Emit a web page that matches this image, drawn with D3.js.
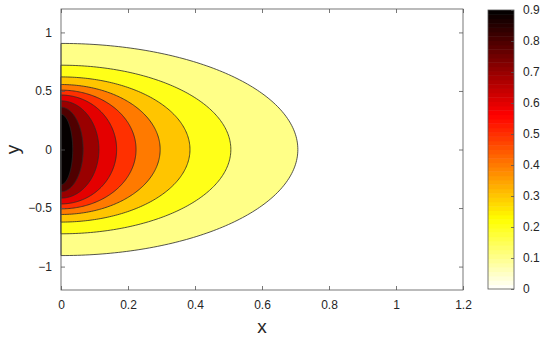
<!DOCTYPE html>
<html lang="en">
<head>
<meta charset="UTF-8">
<title>Contour</title>
<script src="https://d3js.org/d3.v7.min.js"></script>
<style>
    body { margin: 0; background: #fff; }
    text { font-family: "Liberation Sans", Arial, sans-serif; fill: #262626; }
    .tick text { font-size: 12px; }
</style>
</head>
<body>
<svg width="550" height="338"></svg>
<script>
    // contour levels and where each closed curve reaches on the axes
    var levels = [0.1, 0.2, 0.3, 0.4, 0.5, 0.6, 0.7, 0.8, 0.9];
    var xReach = [0.707, 0.507, 0.385, 0.296, 0.224, 0.166, 0.113, 0.066, 0.035];
    var yReach = [0.906, 0.72, 0.62, 0.555, 0.507, 0.465, 0.415, 0.36, 0.30];

    var xTicks = [0, 0.2, 0.4, 0.6, 0.8, 1, 1.2];
    var yTicks = [-1, -0.5, 0, 0.5, 1];
    var cbTicks = [0, 0.1, 0.2, 0.3, 0.4, 0.5, 0.6, 0.7, 0.8, 0.9];

    var svg = d3.select("svg");
    var plot = {left: 61, right: 463, top: 9, bottom: 290};
    var cb = {left: 488, right: 514, top: 10, bottom: 289};

    var x = d3.scaleLinear().domain([0, 1.2]).range([plot.left, plot.right]);
    var y = d3.scaleLinear().domain([-1.2, 1.2]).range([plot.bottom, plot.top]);
    var cbY = d3.scaleLinear().domain([0, 0.9]).range([cb.bottom, cb.top]);

    // flipped "hot" colormap, 64 steps over 0..0.9
    var nColors = 64;
    function hotFlip(v) {
        var k = Math.min(nColors - 1, Math.floor(v / 0.9 * nColors));
        var t = 1 - (k + 0.5) / nColors;
        var c = function(a) { return Math.round(255 * Math.max(0, Math.min(1, a))); };
        return d3.rgb(c(t / 0.375), c((t - 0.375) / 0.375), c((t - 0.75) / 0.25)).toString();
    }

    // filled contours, outermost first
    var line = d3.line()
        .x(function(p) { return x(p[0]); })
        .y(function(p) { return y(p[1]); });

    var bands = svg.append("g");
    levels.forEach(function(lv, i) {
        var pts = d3.range(0, 181).map(function(a) {
            var th = (a - 90) * Math.PI / 180;
            return [xReach[i] * Math.cos(th), yReach[i] * Math.sin(th)];
        });
        bands.append("path")
            .attr("d", line(pts) + "Z")
            .attr("fill", hotFlip(lv))
            .attr("stroke", "#2a2a2a")
            .attr("stroke-width", 0.8);
    });

    // axes box with inward ticks
    var tickLen = 4;
    var axisColor = "#555";
    var gx = svg.append("g").attr("transform", "translate(0," + plot.bottom + ")")
        .call(d3.axisBottom(x).tickValues(xTicks).tickSize(-tickLen).tickPadding(10).tickFormat(d3.format("~g")));
    var gxTop = svg.append("g").attr("transform", "translate(0," + plot.top + ")")
        .call(d3.axisTop(x).tickValues(xTicks).tickSize(-tickLen).tickFormat(""));
    var gy = svg.append("g").attr("transform", "translate(" + plot.left + ",0)")
        .call(d3.axisLeft(y).tickValues(yTicks).tickSize(-tickLen).tickPadding(9).tickFormat(d3.format("~g")));
    var gyRight = svg.append("g").attr("transform", "translate(" + plot.right + ",0)")
        .call(d3.axisRight(y).tickValues(yTicks).tickSize(-tickLen).tickFormat(""));

    [gx, gxTop, gy, gyRight].forEach(function(g) {
        g.select(".domain").remove();
        g.selectAll(".tick line").attr("stroke", axisColor).attr("stroke-width", 0.8);
        g.selectAll(".tick text").attr("fill", "#262626").style("font-size", "12px");
    });
    gx.selectAll(".tick text").attr("dy", "0.71em");

    svg.append("rect")
        .attr("x", plot.left).attr("y", plot.top)
        .attr("width", plot.right - plot.left).attr("height", plot.bottom - plot.top)
        .attr("fill", "none").attr("stroke", axisColor).attr("stroke-width", 0.8);

    svg.append("text")
        .attr("x", (plot.left + plot.right) / 2).attr("y", 333)
        .attr("text-anchor", "middle")
        .style("font-size", "19px")
        .text("x");

    svg.append("text")
        .attr("transform", "translate(19," + y(0) + ") rotate(-90)")
        .attr("text-anchor", "middle")
        .style("font-size", "19px")
        .text("y");

    // colorbar
    var step = 0.9 / nColors;
    svg.append("g").selectAll("rect")
        .data(d3.range(nColors))
        .enter()
        .append("rect")
        .attr("x", cb.left)
        .attr("width", cb.right - cb.left)
        .attr("y", function(k) { return cbY((k + 1) * step); })
        .attr("height", function(k) { return cbY(k * step) - cbY((k + 1) * step) + 0.5; })
        .attr("fill", function(k) { return hotFlip((k + 0.5) * step); });

    var gcb = svg.append("g").attr("transform", "translate(" + cb.right + ",0)")
        .call(d3.axisRight(cbY).tickValues(cbTicks).tickSize(-3).tickPadding(9).tickFormat(d3.format("~g")));
    gcb.select(".domain").remove();
    gcb.selectAll(".tick line").attr("stroke", axisColor).attr("stroke-width", 0.8);
    gcb.selectAll(".tick text").attr("fill", "#262626").style("font-size", "12px");

    svg.append("rect")
        .attr("x", cb.left).attr("y", cb.top)
        .attr("width", cb.right - cb.left).attr("height", cb.bottom - cb.top)
        .attr("fill", "none").attr("stroke", axisColor).attr("stroke-width", 0.8);
</script>
</body>
</html>
